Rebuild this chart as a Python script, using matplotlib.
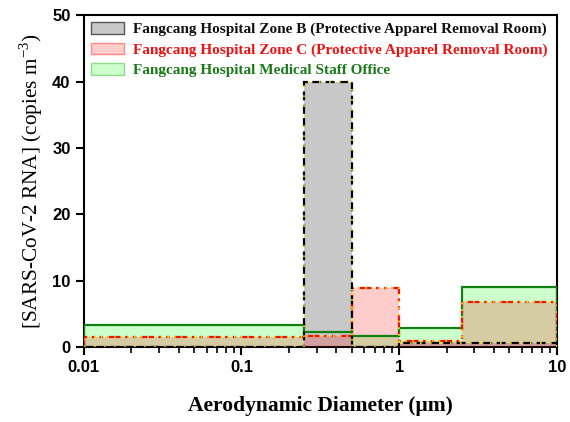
import matplotlib
matplotlib.use("Agg")
import matplotlib.pyplot as plt
import numpy as np
from matplotlib.patches import Patch
from matplotlib.ticker import LogLocator, NullFormatter

# size-bin edges (um) and concentrations (copies m^-3)
bin_edges = [0.01, 0.25, 0.5, 1.0, 2.5, 10.0]
zone_b = [0.0, 40.0, 0.0, 0.55, 0.55]
zone_c = [1.55, 1.7, 8.85, 0.9, 6.8]
staff_office = [3.35, 2.3, 1.6, 2.9, 9.05]

labels = [
    "Fangcang Hospital Zone B (Protective Apparel Removal Room)",
    "Fangcang Hospital Zone C (Protective Apparel Removal Room)",
    "Fangcang Hospital Medical Staff Office",
]
text_colors = ["#111111", "#ee1111", "#1a7a1a"]

fig = plt.figure(figsize=(5.7, 4.22), dpi=100)
ax = fig.add_axes([0.147, 0.178, 0.83, 0.786])

# fills
ax.stairs(staff_office, bin_edges, fill=True, color=(0, 1, 0), alpha=0.2, lw=0, zorder=1)
ax.stairs(zone_b, bin_edges, fill=True, color="#c8c8c8", lw=0, zorder=2)
ax.stairs(zone_c, bin_edges, fill=True, color=(1, 0, 0), alpha=0.2, lw=0, zorder=3)

# outlines
ax.stairs(staff_office, bin_edges, color="#108010", lw=1.6, zorder=4)
ax.stairs(zone_c, bin_edges, color="#ee1111", lw=1.6,
          linestyle=(0, (6, 2, 1.5, 2, 1.5, 2)), zorder=5)
ax.stairs(zone_c, bin_edges, color="#ffee00", lw=1.2,
          linestyle=(0, (1, 3)), zorder=6)
ax.stairs(zone_b, bin_edges, color="black", lw=1.6,
          linestyle=(0, (4, 2)), zorder=7)
ax.stairs(zone_b, bin_edges, color="#ffee00", lw=1.2,
          linestyle=(0, (1, 5)), zorder=8)

ax.set_xscale("log")
ax.set_xlim(0.01, 10)
ax.set_ylim(0, 50)
ax.set_yticks([0, 10, 20, 30, 40, 50])
ax.set_xticks([0.01, 0.1, 1, 10])
ax.set_xticklabels(["0.01", "0.1", "1", "10"])
ax.xaxis.set_minor_locator(LogLocator(base=10, subs=np.arange(2, 10)))
ax.xaxis.set_minor_formatter(NullFormatter())

for s in ax.spines.values():
    s.set_linewidth(1.5)
ax.tick_params(axis="both", which="major", direction="out", length=6, width=1.5,
               labelsize=12)
ax.tick_params(axis="x", which="minor", direction="out", length=4, width=1.2)
for lab in ax.get_xticklabels() + ax.get_yticklabels():
    lab.set_fontfamily("Liberation Sans")
    lab.set_fontweight("bold")

ax.set_xlabel("Aerodynamic Diameter (\u03bcm)", fontfamily="Liberation Serif",
              fontweight="bold", fontsize=15.5, labelpad=15)
ax.set_ylabel("[SARS-CoV-2 RNA] (copies m$^{\\mathregular{-3}}$)",
              fontfamily="Liberation Serif", fontsize=15.3, labelpad=5)

handles = [
    Patch(facecolor="#c8c8c8", edgecolor="#555555", lw=1),
    Patch(facecolor="#ffcccc", edgecolor="#ff8888", lw=1),
    Patch(facecolor="#ccffcc", edgecolor="#88dd88", lw=1),
]
leg = ax.legend(handles, labels, loc="upper left", bbox_to_anchor=(0.0, 1.0),
                frameon=False, handlelength=2.15, handleheight=0.8,
                labelspacing=0.4, handletextpad=0.65, borderaxespad=0.2,
                borderpad=0.25,
                prop={"family": "Liberation Serif", "weight": "bold", "size": 11.0})
for txt, c in zip(leg.get_texts(), text_colors):
    txt.set_color(c)

fig.savefig("out.png", dpi=100)
